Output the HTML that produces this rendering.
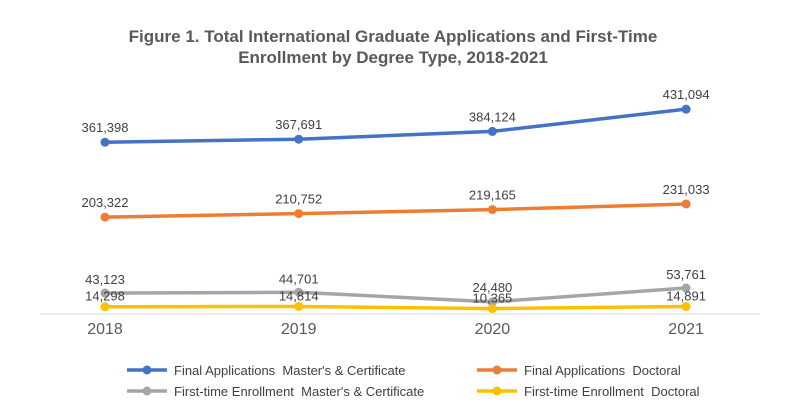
<!DOCTYPE html>
<html><head><meta charset="utf-8"><style>
body{margin:0;background:#fff;width:793px;height:406px;overflow:hidden;font-family:"Liberation Sans",sans-serif}
</style></head><body>
<svg width="793" height="406" id="c">
<text x="393" y="42" text-anchor="middle" font-size="17" font-weight="bold" fill="#595959">Figure 1. Total International Graduate Applications and First-Time</text>
<text x="393" y="63" text-anchor="middle" font-size="17" font-weight="bold" fill="#595959">Enrollment by Degree Type, 2018-2021</text>
<line x1="40" y1="314" x2="760" y2="314" stroke="#d9d9d9"/>
</svg>
<script>
const years=["2018","2019","2020","2021"];
const faMaster=[361398,367691,384124,431094];
const faDoctoral=[203322,210752,219165,231033];
const feMaster=[43123,44701,24480,53761];
const feDoctoral=[14298,14814,10365,14891];
const seriesNames=["Final Applications  Master's & Certificate","Final Applications  Doctoral","First-time Enrollment  Master's & Certificate","First-time Enrollment  Doctoral"];
const svg=document.getElementById('c');const NS="http://www.w3.org/2000/svg";
function xs(i){return 105+i*193.7;}
function ys(v){return 313.5-v*0.000474;}
function mk(t,a,p){const e=document.createElementNS(NS,t);for(const k in a)e.setAttribute(k,a[k]);(p||svg).appendChild(e);return e;}
const series=[[faMaster,"#4472c4",-10],[faDoctoral,"#ed7d31",-10],[feMaster,"#a5a5a5",-9],[feDoctoral,"#ffc000",-6]];
const fmt=v=>v.toLocaleString('en-US');
years.forEach((y,i)=>{const t=mk('text',{x:xs(i),y:334,'text-anchor':'middle','font-size':16,fill:'#595959'});t.textContent=y;

});
series.forEach((s,si)=>{const [d,c,off]=s;
const pl=mk('polyline',{points:d.map((v,i)=>xs(i)+','+ys(v)).join(' '),fill:'none',stroke:c,'stroke-width':3.5});


d.forEach((v,i)=>{const p=mk('circle',{cx:xs(i),cy:ys(v),r:4.5,fill:c});


let ly=ys(v)+off; if(si===2&&i===2) ly=ys(v)-10;
const t=mk('text',{x:xs(i),y:ly,'text-anchor':'middle','font-size':13,fill:'#404040'});t.textContent=fmt(v);

});});
const lp=[[130,370],[480,370],[130,391],[480,391]];
series.forEach((s,si)=>{const [x,y]=lp[si];const g=mk('g',{});


mk('line',{x1:x-3,y1:y,x2:x+37,y2:y,stroke:s[1],'stroke-width':3.5},g);
mk('circle',{cx:x+17,cy:y,r:4.5,fill:s[1]},g);
const t=mk('text',{x:x+44,y:y+5,'font-size':13,fill:'#404040',style:'white-space:pre'},g);t.textContent=seriesNames[si];});
</script>
</body></html>
